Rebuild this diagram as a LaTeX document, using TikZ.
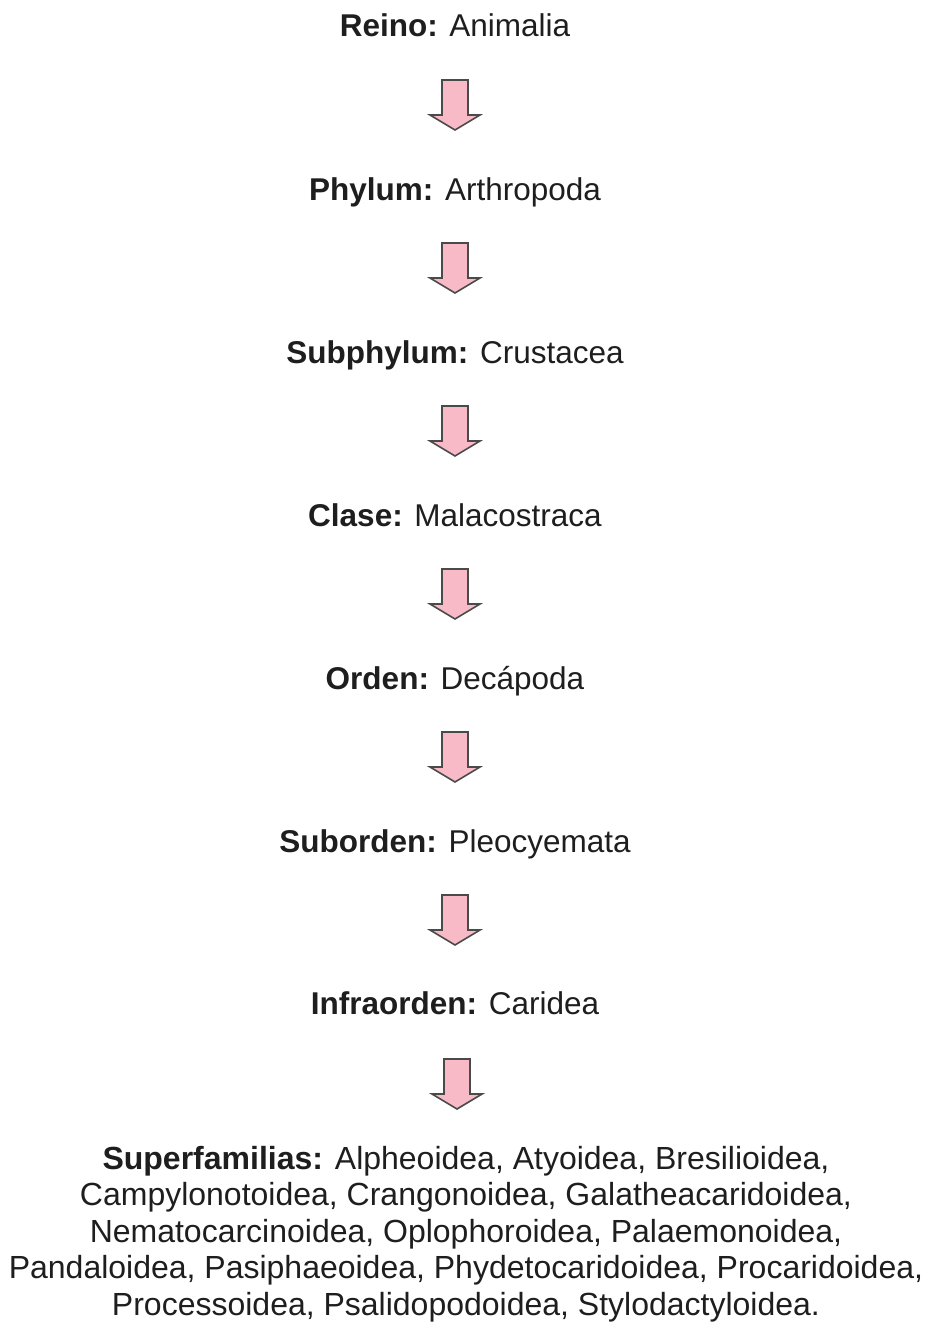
\documentclass[tikz,border=0pt]{standalone}
\usepackage{fontspec}
\setmainfont{Liberation Sans}
\usetikzlibrary{calc}
\definecolor{txt}{HTML}{1E1E1E}
\definecolor{arrpink}{RGB}{249,186,200}
\definecolor{arredge}{HTML}{4A4A4A}
\tikzset{
  rank/.style={anchor=base, inner sep=0pt, text=txt, font=\fontsize{31.5}{37}\selectfont},
  fams/.style={anchor=north, align=center, inner sep=0pt, text=txt, font=\fontsize{32}{36.5}\selectfont},
  arr/.style={fill=arrpink, draw=arredge, line width=1.6pt, line join=miter},
}
\newcommand\pinkarrow[1]{%
  \filldraw[arr] ($(#1)+(-13,-25)$) -- ++(26,0) -- ++(0,35) -- ++(12,0)
    -- ($(#1)+(0,25)$) -- ($(#1)+(-25,10)$) -- ++(12,0) -- cycle;}
\begin{document}
\begin{tikzpicture}[x=1pt,y=-1pt]
\useasboundingbox (0,0) rectangle (931,1326);
\node[rank] (n1) at (455,36)   {\textbf{Reino:} Animalia};
\node[rank] (n2) at (455,200)  {\textbf{Phylum:} Arthropoda};
\node[rank] (n3) at (455,363)  {\textbf{Subphylum:} Crustacea};
\node[rank] (n4) at (455,526)  {\textbf{Clase:} Malacostraca};
\node[rank] (n5) at (455,689)  {\textbf{Orden:} Decápoda};
\node[rank] (n6) at (455,852)  {\textbf{Suborden:} Pleocyemata};
\node[rank] (n7) at (455,1014) {\textbf{Infraorden:} Caridea};
\node[fams] (n8) at (466,1145.7)
  {\textbf{Superfamilias:} Alpheoidea, Atyoidea, Bresilioidea,\\
   Campylonotoidea, Crangonoidea, Galatheacaridoidea,\\
   Nematocarcinoidea, Oplophoroidea, Palaemonoidea,\\
   Pandaloidea, Pasiphaeoidea, Phydetocaridoidea, Procaridoidea,\\
   Processoidea, Psalidopodoidea, Stylodactyloidea.};
\coordinate (a1) at (455,105);
\coordinate (a2) at (455,268);
\coordinate (a3) at (455,431);
\coordinate (a4) at (455,594);
\coordinate (a5) at (455,757);
\coordinate (a6) at (455,920);
\coordinate (a7) at (457,1084);
\pinkarrow{a1}
\pinkarrow{a2}
\pinkarrow{a3}
\pinkarrow{a4}
\pinkarrow{a5}
\pinkarrow{a6}
\pinkarrow{a7}
\end{tikzpicture}
\end{document}
